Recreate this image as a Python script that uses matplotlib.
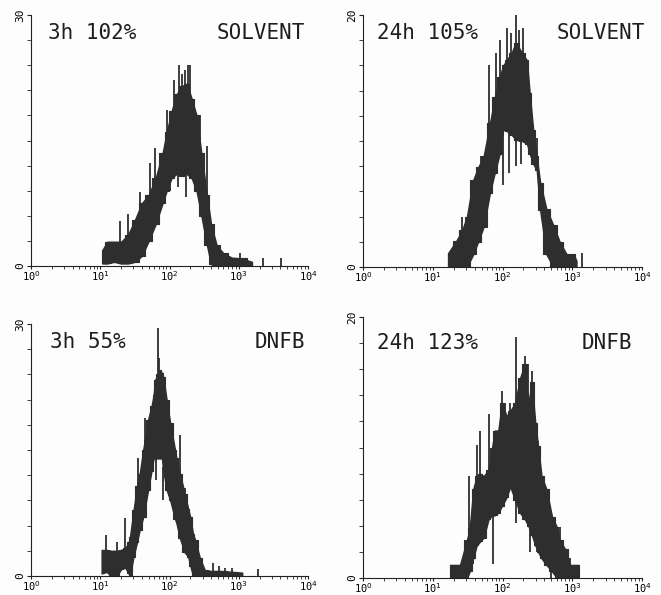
import numpy as np
import matplotlib
matplotlib.use('Agg')
import matplotlib.pyplot as plt
from matplotlib.ticker import LogLocator, NullFormatter, FixedLocator

# channel position (log10 of fluorescence), lower / upper envelope of counts
p1_x = [1.03, 1.10, 1.20, 1.30, 1.40, 1.50, 1.60, 1.70, 1.80, 1.90, 1.96, 2.03, 2.10,
        2.18, 2.25, 2.32, 2.39, 2.46, 2.54, 2.60, 2.68, 2.78, 2.90, 3.04, 3.19]
p1_lo = [0.3, 0.3, 0.5, 0.3, 0.3, 0.5, 1.2, 3.0, 5.0, 7.5, 9.0, 10.5, 11.0,
         10.8, 11.0, 10.5, 9.0, 6.0, 2.5, 0.2, 0, 0, 0, 0, 0]
p1_hi = [1.9, 2.9, 2.9, 2.9, 3.7, 5.5, 7.5, 8.5, 10.5, 13.5, 16.0, 18.5, 20.5,
         21.5, 21.8, 20.0, 18.0, 13.5, 8.5, 5.0, 2.5, 1.5, 1.0, 0.9, 0.5]
p1_spk_x = [1.285, 1.40, 1.57, 1.72, 1.79, 1.96, 2.06, 2.14, 2.18, 2.22, 2.27, 2.30,
            2.44, 2.54, 2.73, 3.02, 3.35, 3.61]
p1_spk_y = [5.4, 6.2, 8.8, 12.3, 14.1, 18.6, 22.2, 24.0, 23.0, 23.4, 24.0, 24.0,
            18.0, 14.3, 1.9, 1.5, 0.9, 0.9]
p1_dip_x = [2.00, 2.12, 2.24, 2.44]
p1_dip_y = [9.0, 9.5, 8.3, 7.5]

p2_x = [1.22, 1.34, 1.42, 1.49, 1.58, 1.65, 1.73, 1.82, 1.89, 1.96, 2.01, 2.06, 2.13,
        2.19, 2.28, 2.35, 2.39, 2.44, 2.49, 2.54, 2.63, 2.73, 2.82, 2.92, 3.02, 3.06]
p2_lo = [0, 0, 0, 0, 1.0, 2.0, 3.2, 5.9, 7.5, 9.0, 10.9, 10.8, 10.5,
         10.1, 10.0, 9.8, 9.0, 8.2, 7.7, 4.5, 1.0, 0, 0, 0, 0, 0]
p2_hi = [1.1, 2.1, 2.9, 4.0, 6.9, 7.9, 8.8, 11.4, 13.5, 15.1, 16.0, 16.4, 17.0,
         17.8, 17.0, 16.4, 13.8, 10.9, 8.8, 6.7, 4.6, 3.3, 2.0, 1.0, 1.0, 0.5]
p2_spk_x = [1.415, 1.69, 1.80, 1.90, 1.97, 2.06, 2.12, 2.19, 2.24, 2.30, 2.49, 3.14]
p2_spk_y = [4.0, 8.8, 16.0, 17.0, 18.0, 19.0, 18.6, 20.0, 18.8, 19.0, 10.2, 1.1]
p2_dip_x = [1.90, 2.00, 2.10, 2.19, 2.26]
p2_dip_y = [8.5, 6.5, 7.5, 8.0, 8.2]

p3_x = [1.02, 1.09, 1.16, 1.24, 1.30, 1.36, 1.41, 1.43, 1.48, 1.53, 1.57, 1.62, 1.69,
        1.74, 1.77, 1.79, 1.83, 1.86, 1.89, 1.91, 1.96, 2.01, 2.08, 2.10, 2.15, 2.22,
        2.27, 2.30, 2.34, 2.37, 2.44, 2.51, 2.60, 2.75, 2.90, 3.05]
p3_lo = [0.3, 0.5, 0.0, 0.0, 0.8, 1.0, 0.3, 0.0, 2.3, 4.0, 5.5, 7.0, 10.2,
         12.5, 14.0, 14.0, 14.0, 14.0, 14.0, 12.5, 10.2, 9.0, 6.8, 6.3, 4.5, 2.8,
         2.3, 1.2, 0, 0, 0, 0, 0, 0, 0, 0]
p3_hi = [3.1, 3.1, 3.0, 3.0, 3.1, 3.3, 4.0, 4.7, 7.8, 10.7, 12.2, 15.0, 18.6,
         20.2, 21.5, 23.3, 24.0, 24.5, 24.2, 23.7, 20.9, 18.2, 15.0, 14.0, 12.2, 9.8,
         8.0, 7.0, 5.0, 4.3, 2.1, 0.7, 0.6, 0.6, 0.5, 0.4]
p3_spk_x = [1.09, 1.24, 1.36, 1.55, 1.65, 1.83, 1.85, 2.15, 2.22, 2.63, 2.72, 2.80, 2.90, 3.28]
p3_spk_y = [4.9, 4.1, 6.9, 14.0, 18.8, 29.5, 26.0, 16.8, 10.5, 1.5, 1.2, 1.0, 1.0, 0.8]
p3_dip_x = [1.81, 1.91, 1.98]
p3_dip_y = [11.4, 9.0, 10.5]

p4_x = [1.25, 1.39, 1.49, 1.53, 1.58, 1.63, 1.68, 1.73, 1.80, 1.85, 1.89, 1.94, 1.99,
        2.06, 2.11, 2.18, 2.25, 2.32, 2.37, 2.42, 2.47, 2.51, 2.56, 2.63, 2.71, 2.78,
        2.82, 2.90, 2.97, 3.09]
p4_lo = [0, 0, 0, 0.5, 1.5, 2.5, 2.8, 3.1, 4.5, 4.8, 4.8, 5.0, 5.5,
         6.2, 7.0, 6.0, 5.0, 4.5, 4.0, 3.3, 2.5, 2.0, 1.5, 1.0, 0.5, 0,
         0, 0, 0, 0]
p4_hi = [1.0, 1.0, 2.9, 3.8, 6.8, 7.8, 8.0, 7.8, 8.3, 10.0, 11.3, 11.3, 13.4,
         12.4, 12.8, 13.4, 15.3, 16.4, 13.4, 15.0, 11.9, 10.1, 7.8, 6.8, 4.7, 3.9,
         2.9, 2.2, 1.0, 1.0]
p4_spk_x = [1.52, 1.63, 1.68, 1.80, 1.99, 2.04, 2.11, 2.20, 2.32, 2.37, 2.42, 2.51, 2.63, 2.82, 2.97]
p4_spk_y = [7.8, 10.2, 11.3, 12.6, 14.3, 13.4, 13.4, 18.5, 17.0, 16.4, 15.9, 10.5, 6.8, 3.9, 1.5]
p4_dip_x = [1.58, 1.87, 2.20, 2.39, 2.49, 2.70]
p4_dip_y = [1.1, 1.1, 4.2, 2.0, 2.0, 0.0]

panels = [
    (p1_x, p1_lo, p1_hi, p1_spk_x, p1_spk_y, p1_dip_x, p1_dip_y, 30, '3h 102%', 'SOLVENT'),
    (p2_x, p2_lo, p2_hi, p2_spk_x, p2_spk_y, p2_dip_x, p2_dip_y, 20, '24h 105%', 'SOLVENT'),
    (p3_x, p3_lo, p3_hi, p3_spk_x, p3_spk_y, p3_dip_x, p3_dip_y, 30, '3h 55%', 'DNFB'),
    (p4_x, p4_lo, p4_hi, p4_spk_x, p4_spk_y, p4_dip_x, p4_dip_y, 20, '24h 123%', 'DNFB'),
]

# axes boxes in pixels: left, bottom (from top), width, height
W, H = 661, 595
boxes = [(31, 266, 277, 251), (363, 267, 279, 252), (31, 576, 277, 252), (363, 578, 279, 261)]
# label positions in axes fraction: left x, right x, y
label_pos = [(0.06, 0.99, 0.93), (0.05, 1.01, 0.93), (0.07, 0.99, 0.93), (0.05, 0.965, 0.90)]

ink = '#2e2e2e'
fig = plt.figure(figsize=(W / 100, H / 100), dpi=100)
fig.patch.set_facecolor('#fdfdfd')
plt.rcParams['font.family'] = 'DejaVu Sans Mono'
plt.rcParams['mathtext.fontset'] = 'dejavusans'

for (x, lo, hi, sx, sy, dx, dy, ymax, left_txt, right_txt), (l, b, w, h), (tl, tr, ty) in zip(panels, boxes, label_pos):
    ax = fig.add_axes([l / W, (H - b) / H, w / W, h / H])
    ax.set_facecolor('none')
    xs = 10 ** np.array(x)
    # smooth band plus channel-like steps
    ax.fill_between(xs, lo, hi, color=ink, lw=1.0, edgecolor=ink)
    ax.fill_between(xs, lo, hi, step='mid', color=ink, lw=0.8, edgecolor=ink)
    sxs = 10 ** np.array(sx)
    ax.vlines(sxs, np.interp(sx, x, lo), sy, color=ink, lw=1.3)
    dxs = 10 ** np.array(dx)
    ax.vlines(dxs, dy, np.interp(dx, x, lo) + 0.5, color=ink, lw=1.3)

    ax.set_xscale('log')
    ax.set_xlim(1, 1e4)
    ax.set_ylim(0, ymax)
    for s in ['top', 'right']:
        ax.spines[s].set_visible(False)
    ax.spines['left'].set_color('#222222')
    ax.spines['bottom'].set_color('#222222')

    ax.xaxis.set_major_locator(FixedLocator([1, 10, 100, 1000, 10000]))
    ax.set_xticklabels(['10$^0$', '10$^1$', '10$^2$', '10$^3$', '10$^4$'], fontsize=7.5)
    ax.xaxis.set_minor_locator(LogLocator(base=10, subs=np.arange(2, 10), numticks=20))
    ax.xaxis.set_minor_formatter(NullFormatter())
    ax.tick_params(axis='x', which='major', length=2, pad=0, color='#222222')
    ax.tick_params(axis='x', which='minor', length=2, color='#222222')

    ax.set_yticks([0, ymax])
    ax.set_yticklabels(['0', str(ymax)], rotation=90, fontsize=8, va='center')
    ax.set_yticks(np.linspace(0, ymax, 11), minor=True)
    ax.tick_params(axis='y', which='both', length=3, pad=1, color='#222222')

    ax.text(tl, ty, left_txt, transform=ax.transAxes, fontsize=15,
            ha='left', va='center', color='#1e1e1e')
    ax.text(tr, ty, right_txt, transform=ax.transAxes, fontsize=15,
            ha='right', va='center', color='#1e1e1e')

fig.savefig('out.png', dpi=100, facecolor=fig.get_facecolor())
